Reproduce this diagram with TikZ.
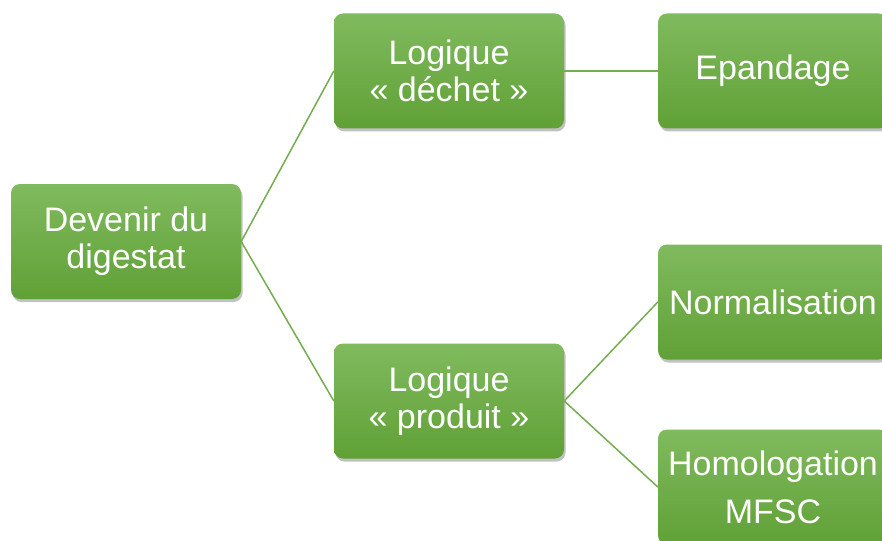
\documentclass[tikz,border=0pt]{standalone}
\usepackage{fontspec}
\setmainfont{Liberation Sans}
\usetikzlibrary{shadows}
\definecolor{boxtop}{HTML}{80BA5E}
\definecolor{boxbot}{HTML}{60A136}
\definecolor{linkgreen}{HTML}{74AD50}
\tikzset{
  greenbox/.style={rectangle, rounded corners=9pt, top color=boxtop, bottom color=boxbot,
    draw=none, minimum width=230pt, minimum height=115pt, inner sep=0pt, align=center,
    text=white, font=\fontsize{34}{37}\selectfont,
    drop shadow={shadow xshift=1.5pt, shadow yshift=-3pt, opacity=0.35, fill=black!70}},
  link/.style={draw=linkgreen, line width=1.5pt}
}
\begin{document}
\begin{tikzpicture}[x=1pt, y=-1pt]
    \useasboundingbox (0,0) rectangle (882,540);

    % racine
    \node[greenbox] (devenir) at (126,241.5) {Devenir du\\digestat};

    % deux logiques
    \node[greenbox] (dechet) at (449,71) {Logique\\« déchet »};
    \node[greenbox] (produit) at (449,401) {Logique\\« produit »};

    % feuilles
    \node[greenbox] (epandage) at (773,71) {Epandage};
    \node[greenbox] (normal) at (773,302) {Normalisation};
    \node[greenbox] (homolog) at (773,487) {Homologation\\[11pt]MFSC};

    \draw[link] (devenir.east) -- (dechet.west);
    \draw[link] (devenir.east) -- (produit.west);
    \draw[link] (dechet.east) -- (epandage.west);
    \draw[link] (produit.east) -- (normal.west);
    \draw[link] (produit.east) -- (homolog.west);
\end{tikzpicture}
\end{document}
